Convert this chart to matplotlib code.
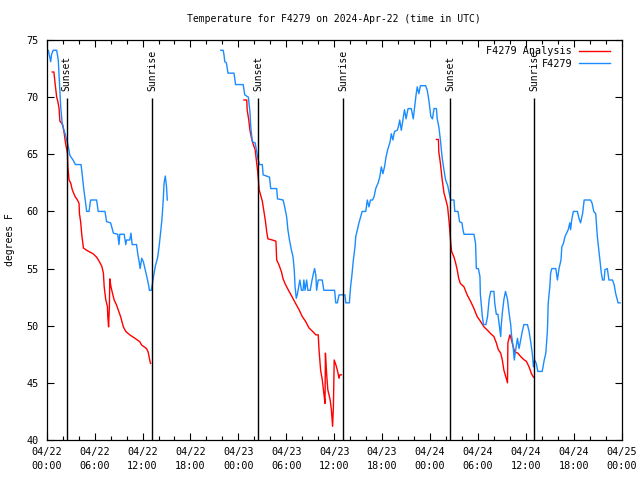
import numpy as np
import pandas as pd
import matplotlib
matplotlib.use("Agg")
import matplotlib.pyplot as plt
import matplotlib.dates as mdates

plt.rcParams['font.family'] = ['DejaVu Sans Mono']

BASE = pd.Timestamp('2024-04-22 00:00')

# ---- data (hours since 2024-04-22 00:00 UTC, degrees F) ----
blue1_h = [0.2,0.5,0.6,0.8,1.25,1.45,1.6,1.75,1.95,2.3,2.5,2.7,2.9,3.3,3.6,4.3,4.45,4.65,4.9,5.0,5.3,5.5,6.25,6.45,
           7.3,7.5,8.0,8.2,8.35,8.9,9.05,9.15,9.7,9.9,10.0,10.4,10.55,10.7,11.25,11.4,11.6,11.7,11.9,12.1,12.4,12.6,
           12.8,12.85,13.1,13.25,13.4,13.6,13.9,14.1,14.3,14.45,14.6,14.7,14.85,15.0,15.1]
blue1_t = [74.1,73.1,73.7,74.1,74.1,73.25,71.2,69.2,67.6,66.8,66.25,65.7,64.9,64.5,64.1,64.1,63.2,61.9,60.6,60.0,60.0,
           61.0,61.0,60.0,60.0,59.1,59.0,58.5,58.1,58.0,57.1,58.0,58.0,57.1,57.5,57.5,58.1,57.1,57.1,56.3,55.5,55.0,
           55.9,55.6,54.7,54.1,53.4,53.1,53.1,53.7,54.4,55.2,56.0,57.1,58.4,59.5,61.1,62.5,63.1,62.2,61.0]

blue2_h = [21.8,22.1,22.2,22.3,22.5,22.7,23.45,23.65,24.6,24.8,25.25,25.45,25.55,25.75,26.1,26.25,26.45,26.65,27.0,
           27.1,27.9,28.05,28.8,28.9,29.6,29.8,30.05,30.2,30.4,30.65,30.85,31.0,31.1,31.25,31.4,31.6,31.7,31.9,32.1,
           32.2,32.35,32.55,32.7,33.0,33.2,33.4,33.55,33.7,33.8,34.0,34.5,34.7,36.05,36.2,36.4,36.6,37.35,37.45,37.9,
           38.05,38.2,38.4,38.6,38.7,38.9,39.1,39.3,39.5,39.95,40.15,40.35,40.55,40.8,41.0,41.2,41.5,41.7,41.9,42.1,
           42.3,42.5,42.7,43.0,43.15,43.35,43.55,43.9,44.1,44.2,44.4,44.6,44.8,45.0,45.25,45.65,45.9,46.05,46.25,
           46.4,46.6,46.8,47.45,47.65,47.85,48.1,48.3,48.5,48.8,48.9,49.1,49.3,49.5,49.75,49.95,50.2,50.4,50.6,51.0,
           51.1,51.5,51.7,52.0,52.1,52.25,53.5,53.7,53.8,54.05,54.25,54.3,54.55,54.7,55.0,55.2,55.4,55.6,56.0,56.1,
           56.3,56.5,56.7,56.85,56.9,57.05,57.25,57.45,57.7,57.9,58.1,58.2,58.4,58.55,58.75,58.95,59.15,59.35,59.55,
           59.75,60.2,60.4,60.6,60.8,60.95,61.1,61.3,61.5,62.05,62.3,62.5,62.7,62.8,63.0,63.1,63.25,63.75,63.95,
           64.15,64.4,64.5,64.7,64.9,65.1,65.3,65.5,65.6,65.75,65.95,66.45,66.65,66.85,67.1,67.3,68.1,68.3,68.5,
           68.75,68.95,69.15,69.3,69.45,69.6,69.8,69.9,70.2,70.4,70.85,71.05,71.25,71.4,71.55,71.8]
blue2_t = [74.1,74.1,73.7,73.1,73.0,72.1,72.1,71.1,71.1,70.2,70.0,68.7,67.4,66.1,66.0,65.4,64.6,64.1,64.1,
           63.2,63.0,62.0,62.0,61.1,61.0,60.4,59.5,58.4,57.5,56.6,56.0,54.9,53.4,52.4,52.8,53.6,54.0,53.1,53.1,
           54.0,53.1,54.0,53.1,53.1,53.9,54.6,55.0,54.4,53.1,54.0,54.0,53.1,53.1,52.0,52.0,52.7,52.7,52.0,52.0,
           53.4,54.3,55.75,56.9,57.8,58.4,59.0,59.5,60.0,60.0,61.0,60.4,61.0,61.0,61.3,62.0,62.5,63.0,63.9,63.3,
           63.9,64.8,65.4,66.1,66.8,66.25,67.0,67.1,67.6,68.0,67.1,68.0,68.9,68.1,69.0,69.0,68.1,69.0,70.2,
           70.9,70.3,71.0,71.0,70.6,69.75,68.3,68.1,69.0,69.0,68.1,67.4,66.25,64.8,63.6,62.75,62.3,61.6,61.0,61.0,
           60.0,60.0,59.1,59.0,58.5,58.0,58.0,57.2,55.0,55.0,54.3,52.8,50.8,50.1,50.1,50.8,52.3,53.0,53.0,52.0,
           51.0,51.0,49.9,49.05,49.9,51.1,52.3,53.0,52.3,51.1,50.1,49.2,48.2,47.0,48.0,48.9,48.0,48.75,49.5,
           50.1,50.1,49.5,48.6,47.6,46.4,47.0,46.7,46.0,46.0,47.0,47.6,49.6,52.0,53.4,54.6,55.0,55.0,54.0,
           55.0,55.75,56.9,57.2,57.8,58.1,58.4,59.0,58.4,59.3,60.0,60.0,59.4,59.0,59.8,61.0,61.0,60.7,60.0,
           59.8,57.8,56.5,55.5,54.6,54.0,54.0,54.9,55.0,54.0,54.0,53.6,52.8,52.4,52.0,52.0]

red1_h = [0.7,0.9,1.05,1.25,1.4,1.55,1.65,2.0,2.2,2.3,2.4,2.6,2.65,2.8,3.0,3.2,3.55,3.85,4.05,4.1,4.25,4.4,4.6,
          5.0,5.8,6.25,6.6,6.9,7.1,7.2,7.4,7.6,7.65,7.75,7.85,7.9,8.05,8.25,8.45,8.75,8.95,9.25,9.6,9.9,10.4,
          11.05,11.65,11.9,12.5,12.7,12.9,13.0]
red1_t = [72.2,72.2,71.2,70.0,69.6,69.0,67.9,67.6,66.8,66.25,65.8,65.1,63.9,62.75,62.5,61.9,61.3,61.0,60.7,59.8,
          59.1,57.9,56.8,56.6,56.3,56.0,55.6,55.2,54.6,53.4,52.25,51.7,50.8,49.9,51.7,54.1,53.4,52.8,52.25,51.8,
          51.4,50.8,49.9,49.5,49.2,48.9,48.6,48.3,48.0,47.7,47.0,46.7]

red2_h = [24.7,25.05,25.1,25.3,25.45,25.65,25.8,26.1,26.25,26.4,26.5,26.6,26.8,27.0,27.2,27.4,27.55,27.7,28.25,
          28.7,28.8,29.1,29.4,29.6,29.9,30.35,30.75,31.2,31.6,32.0,32.4,32.85,33.3,33.7,34.0,34.1,34.3,34.5,34.7,
          34.85,34.9,35.05,35.2,35.5,35.65,35.8,35.9,36.0,36.2,36.4,36.6,36.7,36.9]
red2_t = [69.75,69.75,68.9,68.0,67.1,66.4,66.0,65.4,64.5,63.6,62.9,61.9,61.4,60.9,60.0,59.1,58.2,57.6,57.5,
          57.4,55.75,55.3,54.7,54.1,53.6,53.0,52.5,51.9,51.4,50.8,50.4,49.8,49.5,49.2,49.2,47.9,46.1,45.3,44.1,
          43.2,47.6,45.8,44.4,43.5,42.6,41.2,42.9,47.0,46.6,46.1,45.4,45.7,45.7]

red3_h = [48.8,49.05,49.1,49.3,49.5,49.75,49.95,50.2,50.4,50.6,50.7,51.0,51.2,51.4,51.6,51.8,52.25,52.65,53.1,
          53.5,53.9,54.3,54.75,55.2,55.6,56.0,56.3,56.55,56.85,57.05,57.25,57.5,57.7,57.75,58.0,58.2,58.4,58.6,
          59.0,59.35,59.8,60.05,60.4,60.7,60.95]
red3_t = [66.3,66.3,65.2,64.2,62.9,61.6,61.1,60.4,59.0,57.2,56.5,56.0,55.5,54.9,54.1,53.7,53.4,52.7,52.1,
          51.5,50.8,50.4,49.9,49.6,49.3,49.05,48.5,47.9,47.6,47.0,46.1,45.5,45.0,48.5,49.2,48.75,48.2,47.7,
          47.6,47.3,47.0,46.9,46.4,45.8,45.5]

sun_h = [2.5, 13.22, 26.5, 37.14, 50.54, 61.05]
sun_labels = ["Sunset", "Sunrise", "Sunset", "Sunrise", "Sunset", "Sunrise"]

title = "Temperature for F4279 on 2024-Apr-22 (time in UTC)"
ylabel = "degrees F"
series_names = ["F4279 Analysis", "F4279"]
RED = "#ff0000"
BLUE = "#1a8cff"


def to_time(hours):
    return BASE + pd.to_timedelta(np.asarray(hours, dtype=float), unit='h')


fig = plt.figure(figsize=(6.4, 4.8), dpi=100)
ax = fig.add_axes([46.7 / 640, 40 / 480, 575 / 640, 400 / 480])

lr, = ax.plot(to_time(red1_h), red1_t, color=RED, lw=1.0)
ax.plot(to_time(red2_h), red2_t, color=RED, lw=1.0)
ax.plot(to_time(red3_h), red3_t, color=RED, lw=1.0)
lb, = ax.plot(to_time(blue1_h), blue1_t, color=BLUE, lw=1.0)
ax.plot(to_time(blue2_h), blue2_t, color=BLUE, lw=1.0)

ax.vlines(to_time(sun_h), 40, 69.9, color='black', lw=1.0)
for h, lab in zip(sun_h, sun_labels):
    ax.text(to_time([h])[0], 70.5, lab, rotation=90, ha='center', va='bottom', fontsize=7)

ax.set_xlim(BASE, BASE + pd.Timedelta(hours=72))
ax.set_ylim(40, 75)
ax.set_yticks(np.arange(40, 76, 5))
ax.xaxis.set_major_locator(mdates.HourLocator(byhour=[0, 6, 12, 18]))
ax.xaxis.set_minor_locator(mdates.HourLocator(byhour=range(0, 24, 2)))
ax.xaxis.set_major_formatter(mdates.DateFormatter('%m/%d\n%H:%M'))
ax.tick_params(which='both', direction='in', top=True, right=True, labelsize=7.3, width=0.8)
ax.tick_params(which='major', length=5)
ax.tick_params(which='minor', length=3)
ax.tick_params(axis='x', pad=5)
ax.tick_params(axis='y', pad=6)
for lab in ax.get_xticklabels():
    lab.set_linespacing(1.45)
for s in ax.spines.values():
    s.set_linewidth(0.9)

fig.text(334 / 640, 1 - 19 / 480, title, ha='center', va='center', fontsize=7)
fig.text(10 / 640, 0.5, ylabel, rotation=90, ha='center', va='center', fontsize=7)

leg = ax.legend([lr, lb], series_names, loc='upper right', bbox_to_anchor=(0.988, 0.997),
                frameon=False, markerfirst=False, fontsize=7.3, handlelength=3.0,
                handletextpad=0.7, labelspacing=0.25, borderaxespad=0.3, borderpad=0.2)

fig.savefig("out.png", dpi=100)
